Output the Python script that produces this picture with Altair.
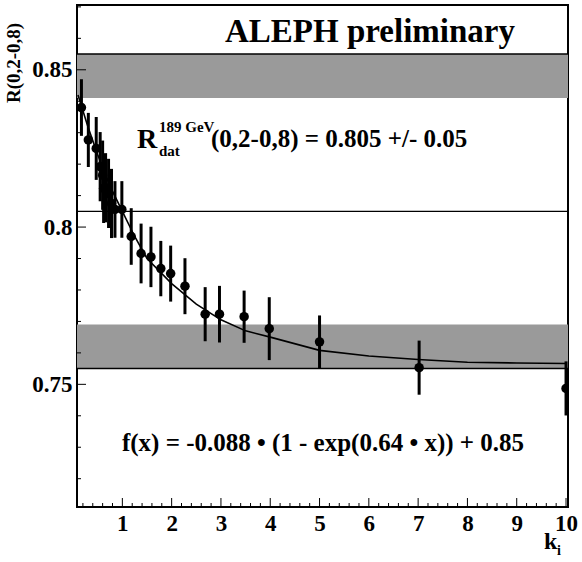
import altair as alt
import pandas as pd

# ---- data ----
k_vals = [0.17, 0.31, 0.47, 0.55, 0.6, 0.62, 0.66, 0.72, 0.78, 0.85, 0.99,
          1.18, 1.38, 1.58, 1.78, 1.98, 2.27, 2.68, 2.97, 3.47, 3.98, 5.0, 7.02, 10.0]
r_vals = [0.838, 0.8277, 0.825, 0.8192, 0.8165, 0.8123, 0.8125, 0.8107, 0.8075, 0.8056, 0.8056,
          0.797, 0.7916, 0.7905, 0.7868, 0.7852, 0.7812, 0.7723, 0.7723, 0.7715, 0.7677, 0.7635, 0.7553, 0.7487]
r_err = [0.009, 0.0086, 0.010, 0.011, 0.011, 0.011, 0.011, 0.011, 0.011, 0.009, 0.009,
         0.009, 0.0095, 0.0096, 0.0088, 0.0089, 0.0089, 0.0086, 0.009, 0.0083, 0.010, 0.0084, 0.0086, 0.0086]

fit_k = [0.1, 0.3, 0.5, 0.75, 1.0, 1.25, 1.5, 2.0, 2.5, 3.0, 3.5, 4.0, 5.0, 6.0, 7.0, 8.0, 9.0, 10.0]
fit_r = [0.842, 0.832, 0.823, 0.813, 0.805, 0.797, 0.790, 0.782, 0.7755, 0.7705, 0.767, 0.765,
         0.7608, 0.759, 0.7579, 0.757, 0.7568, 0.7566]

band_lo = [0.755, 0.841]
band_hi = [0.769, 0.855]
edge_lines = [0.755, 0.855]
mean_line = [0.805]

x_major = [1, 2, 3, 4, 5, 6, 7, 8, 9, 10]
x_minor = [round(0.2 * i, 1) for i in range(1, 51) if (i % 5) != 0]
y_major = [0.75, 0.8, 0.85]
y_minor = [0.72, 0.73, 0.74, 0.76, 0.77, 0.78, 0.79, 0.81, 0.82, 0.83, 0.84, 0.86, 0.87]

X_DOM = [0.08, 10.04]
Y_DOM = [0.711, 0.8706]
W, H = 491, 502
SERIF = "Liberation Serif"

pts = pd.DataFrame({"k": k_vals, "r": r_vals, "e": r_err})
pts["lo"] = pts["r"] - pts["e"]
pts["hi"] = pts["r"] + pts["e"]
fit = pd.DataFrame({"k": fit_k, "r": fit_r})
bands = pd.DataFrame({"lo": band_lo, "hi": band_hi})

xs = alt.Scale(domain=X_DOM, nice=False, zero=False)
ys = alt.Scale(domain=Y_DOM, nice=False, zero=False)

x_axis = alt.Axis(values=x_major, format="d", ticks=False, grid=False, domain=False,
                  labelFont=SERIF, labelFontWeight="bold", labelFontSize=23, labelColor="black",
                  labelPadding=5, title=None)
y_axis = alt.Axis(values=y_major, ticks=False, grid=False, domain=False,
                  labelFont=SERIF, labelFontWeight="bold", labelFontSize=23, labelColor="black",
                  labelPadding=5, title=None, labelExpr="datum.value == 0.8 ? '0.8' : format(datum.value, '.2f')")

band_layer = alt.Chart(bands).mark_rect(color="#9a9a9a").encode(
    x=alt.value(0), x2=alt.value(W),
    y=alt.Y("lo:Q", scale=ys, axis=y_axis), y2="hi:Q")

edge_layer = alt.Chart(pd.DataFrame({"v": edge_lines})).mark_rule(color="black", strokeWidth=1.5).encode(
    x=alt.value(0), x2=alt.value(W), y=alt.Y("v:Q", scale=ys))
mean_layer = alt.Chart(pd.DataFrame({"v": mean_line})).mark_rule(color="black", strokeWidth=1.3).encode(
    x=alt.value(0), x2=alt.value(W), y=alt.Y("v:Q", scale=ys))

fit_layer = alt.Chart(fit).mark_line(color="black", strokeWidth=1.6, clip=True).encode(
    x=alt.X("k:Q", scale=xs, axis=x_axis), y=alt.Y("r:Q", scale=ys))

err_layer = alt.Chart(pts).mark_rule(color="black", strokeWidth=3, clip=True).encode(
    x=alt.X("k:Q", scale=xs), y=alt.Y("lo:Q", scale=ys), y2="hi:Q")
pt_layer = alt.Chart(pts).mark_circle(color="black", opacity=1, size=90, clip=True).encode(
    x=alt.X("k:Q", scale=xs), y=alt.Y("r:Q", scale=ys))

xmaj = alt.Chart(pd.DataFrame({"t": x_major})).mark_rule(color="black", strokeWidth=1).encode(
    x=alt.X("t:Q", scale=xs), y=alt.value(H), y2=alt.value(H - 9))
xmin = alt.Chart(pd.DataFrame({"t": x_minor})).mark_rule(color="black", strokeWidth=1).encode(
    x=alt.X("t:Q", scale=xs), y=alt.value(H), y2=alt.value(H - 4))
ymaj = alt.Chart(pd.DataFrame({"t": y_major})).mark_rule(color="black", strokeWidth=1).encode(
    y=alt.Y("t:Q", scale=ys), x=alt.value(0), x2=alt.value(9))
ymin = alt.Chart(pd.DataFrame({"t": y_minor})).mark_rule(color="black", strokeWidth=1).encode(
    y=alt.Y("t:Q", scale=ys), x=alt.value(0), x2=alt.value(4))

def txt(s, x, y, size, align="left", angle=0, baseline="middle"):
    kw = dict(text=s, font=SERIF, fontWeight="bold", fontSize=size, color="black",
              align=align, baseline=baseline)
    if angle:
        kw["angle"] = angle
    return alt.Chart(pd.DataFrame({"a": [0]})).mark_text(**kw).encode(
        x=alt.value(x), y=alt.value(y))

texts = [
    txt("ALEPH preliminary", 293, 27, 33, align="center"),
    txt("R", 60, 135, 28),
    txt("189 GeV", 82, 122, 15),
    txt("dat", 82, 146, 15),
    txt("(0,2-0,8) = 0.805 +/- 0.05", 134, 134, 25),
    txt("f(x) = -0.088 \u2022 (1 - exp(0.64 \u2022 x)) + 0.85", 246, 438, 25, align="center"),
    txt("R(0,2-0,8)", -63, 58, 19, align="center", angle=270),
    txt("k", 467, 537, 24),
    txt("i", 480, 546, 14),
]

chart = alt.layer(band_layer, edge_layer, mean_layer, fit_layer, err_layer, pt_layer,
                  xmaj, xmin, ymaj, ymin, *texts).properties(
    width=W, height=H,
    autosize=alt.AutoSizeParams(type="none"),
    padding={"left": 77, "top": 5, "right": 14, "bottom": 55},
    background="white",
).configure_view(stroke="black", strokeWidth=2)

chart.save("out.html", embed_options={"renderer": "svg", "actions": False})
